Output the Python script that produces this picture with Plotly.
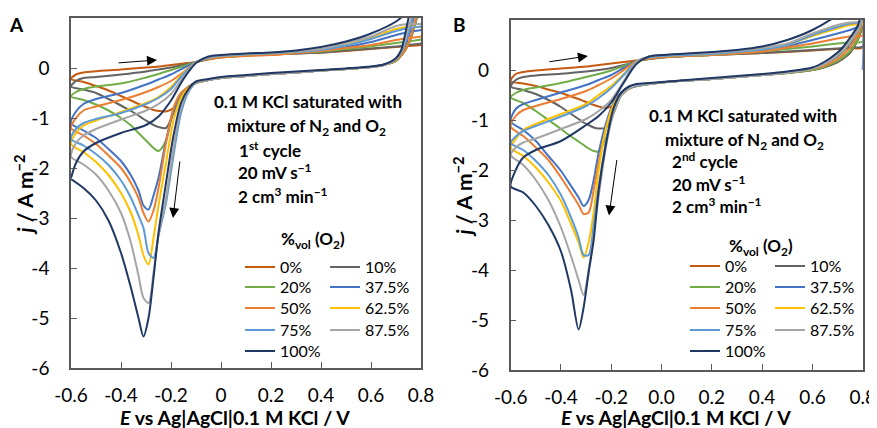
import plotly.graph_objects as go

# ---------------- data ----------------
LABELS = ["0%", "10%", "20%", "37.5%", "50%", "62.5%", "75%", "87.5%", "100%"]
COLORS = ["#C55A11", "#636363", "#70AD47", "#4472C4", "#ED7D31",
          "#FFC000", "#5B9BD5", "#A5A5A5", "#203864"]

# potential grids (V)
E_FWD_A = [-0.6, -0.58, -0.55, -0.5, -0.4, -0.3, -0.25, -0.2, -0.15, -0.1, -0.05,
           0.0, 0.1, 0.2, 0.3, 0.4, 0.5, 0.6, 0.7, 0.75, 0.8, 0.83]
E_FWD_B = [-0.6, -0.58, -0.55, -0.5, -0.4, -0.3, -0.25, -0.2, -0.15, -0.1, -0.05,
           0.0, 0.1, 0.2, 0.3, 0.4, 0.5, 0.6, 0.7, 0.75, 0.8]
E_REV = [0.8, 0.78, 0.75, 0.72, 0.7, 0.65, 0.6, 0.5, 0.4, 0.3, 0.2, 0.1, 0.0, -0.05, -0.1,
         -0.13, -0.16, -0.19, -0.22, -0.25, -0.27, -0.29, -0.31, -0.33, -0.36, -0.4,
         -0.45, -0.5, -0.55, -0.6]

# Panel A, 1st cycle - forward sweep (A m-2)
A_F_0 = [-0.22, -0.13, -0.09, -0.065, -0.03, 0.01, 0.03, 0.06, 0.09, 0.12, 0.17, 0.21, 0.25, 0.27, 0.29, 0.31, 0.34, 0.38, 0.42, 0.44, 0.46, 0.5]
A_F_10 = [-0.37, -0.26, -0.2, -0.18, -0.13, -0.07, -0.03, 0.01, 0.06, 0.12, 0.18, 0.22, 0.25, 0.27, 0.29, 0.31, 0.35, 0.39, 0.43, 0.46, 0.49, 0.53]
A_F_20 = [-0.57, -0.48, -0.42, -0.37, -0.31, -0.19, -0.12, -0.04, 0.04, 0.12, 0.18, 0.22, 0.25, 0.27, 0.3, 0.33, 0.38, 0.43, 0.5, 0.53, 0.57, 0.61]
A_F_375 = [-1.1, -0.87, -0.72, -0.62, -0.5, -0.33, -0.23, -0.13, 0.0, 0.12, 0.19, 0.23, 0.26, 0.28, 0.31, 0.35, 0.42, 0.52, 0.66, 0.72, 0.76, 0.8]
A_F_50 = [-1.2, -1.0, -0.85, -0.77, -0.64, -0.48, -0.38, -0.26, -0.08, 0.12, 0.18, 0.21, 0.24, 0.26, 0.3, 0.34, 0.4, 0.46, 0.56, 0.6, 0.63, 0.67]
A_F_625 = [-1.52, -1.3, -1.15, -1.05, -0.88, -0.7, -0.58, -0.38, -0.1, 0.12, 0.2, 0.24, 0.27, 0.29, 0.32, 0.37, 0.46, 0.6, 0.78, 0.82, 0.82, 0.85]
A_F_75 = [-1.42, -1.22, -1.1, -1.02, -0.9, -0.72, -0.6, -0.42, -0.12, 0.12, 0.2, 0.24, 0.27, 0.29, 0.32, 0.36, 0.45, 0.58, 0.74, 0.8, 0.83, 0.86]
A_F_875 = [-1.77, -1.5, -1.35, -1.22, -1.03, -0.85, -0.72, -0.52, -0.18, 0.12, 0.21, 0.25, 0.28, 0.3, 0.33, 0.38, 0.5, 0.63, 0.84, 0.88, 0.88, 0.92]
A_F_100 = [-2.2, -1.9, -1.67, -1.5, -1.3, -1.14, -0.97, -0.65, -0.22, 0.1, 0.23, 0.26, 0.29, 0.31, 0.35, 0.42, 0.53, 0.69, 0.93, 1.15, 1.5, 1.9]

# Panel A, 1st cycle - reverse sweep
A_R_0 = [1.45, 0.95, 0.48, 0.24, 0.14, 0.06, 0.02, -0.02, -0.05, -0.09, -0.12, -0.16, -0.2, -0.24, -0.3, -0.38, -0.58, -0.8, -0.87, -0.86, -0.84, -0.8, -0.76, -0.72, -0.65, -0.56, -0.45, -0.36, -0.28, -0.22]
A_R_10 = [1.45, 0.95, 0.48, 0.24, 0.14, 0.06, 0.02, -0.02, -0.05, -0.09, -0.12, -0.16, -0.2, -0.24, -0.3, -0.37, -0.52, -0.9, -1.2, -1.18, -1.14, -1.08, -1.02, -0.95, -0.86, -0.75, -0.62, -0.5, -0.43, -0.37]
A_R_20 = [1.45, 0.95, 0.48, 0.24, 0.14, 0.06, 0.02, -0.02, -0.05, -0.09, -0.12, -0.16, -0.2, -0.24, -0.3, -0.38, -0.55, -0.85, -1.45, -1.66, -1.6, -1.5, -1.4, -1.3, -1.15, -1.0, -0.85, -0.73, -0.64, -0.57]
A_R_375 = [1.7, 1.2, 0.62, 0.28, 0.16, 0.06, 0.02, -0.02, -0.05, -0.09, -0.12, -0.16, -0.2, -0.24, -0.3, -0.4, -0.52, -0.85, -1.45, -2.2, -2.55, -2.83, -2.75, -2.45, -2.15, -1.86, -1.62, -1.4, -1.25, -1.1]
A_R_50 = [1.5, 1.0, 0.5, 0.25, 0.15, 0.06, 0.02, -0.02, -0.05, -0.09, -0.12, -0.16, -0.2, -0.24, -0.3, -0.38, -0.5, -0.8, -1.5, -2.4, -2.85, -3.07, -2.9, -2.6, -2.3, -2.0, -1.75, -1.52, -1.35, -1.2]
A_R_625 = [1.8, 1.3, 0.72, 0.3, 0.17, 0.06, 0.02, -0.02, -0.05, -0.09, -0.12, -0.16, -0.2, -0.24, -0.3, -0.4, -0.6, -1.05, -1.9, -2.75, -3.4, -3.93, -3.75, -3.35, -2.9, -2.5, -2.14, -1.88, -1.68, -1.52]
A_R_75 = [1.8, 1.3, 0.7, 0.3, 0.17, 0.06, 0.02, -0.02, -0.05, -0.09, -0.12, -0.16, -0.2, -0.24, -0.3, -0.48, -0.9, -1.75, -2.7, -3.35, -3.8, -3.7, -3.2, -2.95, -2.6, -2.25, -1.94, -1.72, -1.55, -1.42]
A_R_875 = [1.9, 1.4, 0.8, 0.32, 0.18, 0.06, 0.02, -0.02, -0.05, -0.09, -0.12, -0.16, -0.2, -0.24, -0.3, -0.45, -0.8, -1.6, -2.6, -3.35, -4.1, -4.7, -4.6, -4.15, -3.5, -2.9, -2.45, -2.13, -1.93, -1.77]
A_R_100 = [2.2, 1.7, 1.0, 0.35, 0.2, 0.07, 0.03, -0.01, -0.04, -0.07, -0.1, -0.14, -0.18, -0.22, -0.27, -0.42, -0.7, -1.35, -2.3, -3.3, -4.2, -5.0, -5.37, -5.0, -4.4, -3.7, -3.05, -2.65, -2.4, -2.22]

# Panel B, 2nd cycle - forward sweep
B_F_0 = [-0.22, -0.08, -0.04, -0.01, 0.03, 0.07, 0.1, 0.13, 0.16, 0.19, 0.22, 0.25, 0.28, 0.3, 0.32, 0.34, 0.36, 0.39, 0.42, 0.44, 0.45]
B_F_10 = [-0.33, -0.2, -0.14, -0.11, -0.075, -0.03, 0.0, 0.04, 0.1, 0.17, 0.22, 0.25, 0.28, 0.3, 0.32, 0.34, 0.37, 0.4, 0.43, 0.45, 0.47]
B_F_20 = [-0.55, -0.46, -0.4, -0.35, -0.26, -0.14, -0.08, -0.01, 0.08, 0.17, 0.23, 0.26, 0.28, 0.3, 0.33, 0.37, 0.42, 0.47, 0.53, 0.55, 0.57]
B_F_375 = [-1.03, -0.78, -0.68, -0.6, -0.45, -0.3, -0.2, -0.1, 0.04, 0.17, 0.25, 0.28, 0.3, 0.32, 0.35, 0.4, 0.48, 0.6, 0.73, 0.8, 0.87]
B_F_50 = [-1.13, -0.92, -0.8, -0.72, -0.58, -0.42, -0.3, -0.17, 0.0, 0.17, 0.23, 0.26, 0.28, 0.3, 0.33, 0.37, 0.45, 0.53, 0.63, 0.67, 0.69]
B_F_625 = [-1.56, -1.38, -1.2, -1.08, -0.88, -0.68, -0.5, -0.32, -0.08, 0.17, 0.25, 0.28, 0.3, 0.32, 0.36, 0.41, 0.5, 0.68, 0.83, 0.9, 0.93]
B_F_75 = [-1.46, -1.33, -1.22, -1.12, -0.93, -0.72, -0.56, -0.36, -0.1, 0.17, 0.25, 0.28, 0.3, 0.32, 0.36, 0.41, 0.5, 0.7, 0.86, 0.93, 0.96]
B_F_875 = [-1.7, -1.55, -1.45, -1.37, -1.18, -0.98, -0.82, -0.6, -0.22, 0.17, 0.27, 0.3, 0.32, 0.34, 0.38, 0.44, 0.53, 0.73, 0.9, 0.95, 0.97]
B_F_100 = [-2.33, -2.0, -1.75, -1.6, -1.42, -1.1, -0.92, -0.65, -0.25, 0.12, 0.27, 0.3, 0.33, 0.36, 0.4, 0.47, 0.6, 0.8, 1.1, 1.3, 1.5]

# Panel B, 2nd cycle - reverse sweep
B_R_0 = [0.85, 0.6, 0.35, 0.22, 0.16, 0.06, 0.0, -0.06, -0.1, -0.14, -0.18, -0.21, -0.25, -0.28, -0.32, -0.38, -0.5, -0.7, -0.76, -0.73, -0.7, -0.66, -0.62, -0.58, -0.53, -0.46, -0.39, -0.32, -0.27, -0.22]
B_R_10 = [0.85, 0.6, 0.35, 0.22, 0.16, 0.06, 0.0, -0.06, -0.1, -0.14, -0.18, -0.21, -0.25, -0.28, -0.32, -0.37, -0.5, -0.85, -1.15, -1.17, -1.15, -1.1, -1.05, -0.98, -0.88, -0.74, -0.6, -0.48, -0.4, -0.33]
B_R_20 = [0.9, 0.62, 0.38, 0.25, 0.18, 0.07, 0.0, -0.06, -0.1, -0.14, -0.18, -0.21, -0.25, -0.28, -0.32, -0.37, -0.5, -0.85, -1.35, -1.63, -1.62, -1.57, -1.5, -1.43, -1.33, -1.18, -1.0, -0.82, -0.66, -0.55]
B_R_375 = [1.0, 0.75, 0.52, 0.36, 0.27, 0.12, 0.03, -0.05, -0.1, -0.14, -0.18, -0.21, -0.25, -0.28, -0.32, -0.35, -0.45, -0.65, -1.05, -1.65, -2.2, -2.6, -2.72, -2.55, -2.32, -2.02, -1.72, -1.42, -1.2, -1.03]
B_R_50 = [0.95, 0.7, 0.45, 0.3, 0.22, 0.09, 0.02, -0.05, -0.1, -0.14, -0.18, -0.21, -0.25, -0.28, -0.32, -0.36, -0.46, -0.7, -1.15, -1.85, -2.4, -2.85, -2.88, -2.7, -2.46, -2.15, -1.8, -1.55, -1.32, -1.13]
B_R_625 = [1.0, 0.78, 0.56, 0.38, 0.29, 0.13, 0.03, -0.05, -0.1, -0.14, -0.18, -0.21, -0.25, -0.28, -0.32, -0.36, -0.46, -0.68, -1.15, -2.0, -2.85, -3.45, -3.75, -3.45, -3.08, -2.62, -2.25, -1.95, -1.72, -1.56]
B_R_75 = [1.0, 0.78, 0.58, 0.4, 0.3, 0.13, 0.03, -0.05, -0.1, -0.14, -0.18, -0.21, -0.25, -0.28, -0.32, -0.36, -0.48, -0.78, -1.4, -2.35, -3.1, -3.7, -3.7, -3.35, -2.95, -2.5, -2.1, -1.82, -1.6, -1.46]
B_R_875 = [1.0, 0.8, 0.58, 0.4, 0.3, 0.13, 0.03, -0.05, -0.1, -0.14, -0.18, -0.21, -0.25, -0.28, -0.3, -0.37, -0.5, -0.85, -1.5, -2.52, -3.3, -4.0, -4.5, -4.2, -3.72, -3.15, -2.6, -2.2, -1.9, -1.7]
B_R_100 = [1.3, 0.88, 0.65, 0.45, 0.35, 0.17, 0.05, -0.03, -0.08, -0.12, -0.16, -0.2, -0.24, -0.26, -0.28, -0.33, -0.45, -0.75, -1.45, -2.4, -3.4, -4.05, -4.75, -5.19, -4.4, -3.63, -3.1, -2.72, -2.45, -2.33]

# current recorded at the 0.8 V vertex of the 37.5% curve, 2nd cycle
B_VERTEX_375 = [0.0]

X_TICKS = [-0.6, -0.4, -0.2, 0.0, 0.2, 0.4, 0.6, 0.8]
X_TEXT_A = ["-0.6", "-0.4", "-0.2", "0", "0.2", "0.4", "0.6", "0.8"]
X_TEXT_B = ["-0.6", "-0.4", "-0.2", "0.0", "0.2", "0.4", "0.6", "0.8"]
Y_TICKS = [-6, -5, -4, -3, -2, -1, 0, 1]
Y_TEXT = ["-6", "-5", "-4", "-3", "-2", "-1", "0", "1"]

A_FWD = [A_F_0, A_F_10, A_F_20, A_F_375, A_F_50, A_F_625, A_F_75, A_F_875, A_F_100]
A_REV = [A_R_0, A_R_10, A_R_20, A_R_375, A_R_50, A_R_625, A_R_75, A_R_875, A_R_100]
B_FWD = [B_F_0, B_F_10, B_F_20, B_F_375, B_F_50, B_F_625, B_F_75, B_F_875, B_F_100]
B_REV = [B_R_0, B_R_10, B_R_20, B_R_375, B_R_50, B_R_625, B_R_75, B_R_875, B_R_100]

# ---------------- figure ----------------
# the page body has an 8 px margin, so the figure is drawn 8 px in from the corner
OFF = 8
W, H = 877, 428
FONT = "Lato"


def px(x):
    return (x - OFF) / W


def py(y):
    return 1 - (y - OFF) / H


fig = go.Figure()

ROW = [0, 0, 1, 1, 2, 2, 3, 3, 4]
panels = [
    dict(efwd=E_FWD_A, fwd=A_FWD, rev=A_REV, xa="x", ya="y", leg0=1),
    dict(efwd=E_FWD_B, fwd=B_FWD, rev=B_REV, xa="x2", ya="y2", leg0=6),
]
for p_i, p in enumerate(panels):
    for i, lab in enumerate(LABELS):
        xs = list(p["efwd"])
        ys = list(p["fwd"][i])
        if p_i == 1 and i == 3:
            xs += [E_REV[0]] * len(B_VERTEX_375)
            ys += list(B_VERTEX_375)
        xs += list(E_REV)
        ys += list(p["rev"][i])
        k = p["leg0"] + ROW[i]
        fig.add_trace(go.Scatter(
            x=xs, y=ys, mode="lines", name=lab,
            line=dict(color=COLORS[i], width=2, shape="spline", smoothing=0.8),
            xaxis=p["xa"], yaxis=p["ya"],
            legend="legend" if k == 1 else f"legend{k}",
            hoverinfo="skip",
        ))

AX = "#595959"
common_x = dict(range=[-0.6, 0.8], tickvals=X_TICKS, ticks="inside", ticklen=6,
                tickwidth=1.3, tickcolor=AX, showline=True, linecolor=AX, linewidth=1.5,
                mirror=True, showgrid=False, zeroline=False,
                tickfont=dict(family=FONT, size=19, color="#000"),
                ticklabelstandoff=9)
common_y = dict(range=[-6, 1], tickvals=Y_TICKS, ticktext=Y_TEXT, ticks="inside", ticklen=6,
                tickwidth=1.3, tickcolor=AX, showline=True, linecolor=AX, linewidth=1.5,
                mirror=True, showgrid=False, zeroline=False,
                tickfont=dict(family=FONT, size=19, color="#000"),
                ticklabelstandoff=16)

fig.update_layout(
    width=W, height=H,
    margin=dict(l=0, r=0, t=0, b=0, autoexpand=False),
    paper_bgcolor="white", plot_bgcolor="white",
    xaxis=dict(domain=[px(71), px(421)], anchor="y", ticktext=X_TEXT_A, **common_x),
    yaxis=dict(domain=[py(368), py(18)], anchor="x", **common_y),
    xaxis2=dict(domain=[px(510.7), px(862.7)], anchor="y2", ticktext=X_TEXT_B, **common_x),
    yaxis2=dict(domain=[py(370), py(20)], anchor="x2", **common_y),
)

# legends: one horizontal legend per row, two columns
ROWS_A = [267, 287, 308, 330, 351]
ROWS_B = [266, 287, 308, 330, 351]
ITEM_H = 1.3 * 16 + 3
legends = {}
for r in range(5):
    for k0, rows, x0 in ((1, ROWS_A, 240), (6, ROWS_B, 685)):
        k = k0 + r
        key = "legend" if k == 1 else f"legend{k}"
        legends[key] = dict(
            x=px(x0), y=py(rows[r] - ITEM_H / 2 - 5), xanchor="left", yanchor="top",
            orientation="h", entrywidth=40, entrywidthmode="pixels",
            font=dict(family=FONT, size=16, color="#000"),
            bgcolor="rgba(0,0,0,0)", borderwidth=0, itemwidth=30,
        )
fig.update_layout(**legends)

# text
ann = []


def txt(t, x, y, xanchor="center", size=17, angle=0):
    ann.append(dict(text=t, x=px(x), y=py(y), xref="paper", yref="paper",
                    xanchor=xanchor, yanchor="middle", showarrow=False, textangle=angle,
                    font=dict(family=FONT, size=size, color="#000")))


# axis titles
XTITLE = "<b><i>E</i> vs Ag|AgCl|0.1 M KCl / V</b>"
YTITLE = "<b><i>j</i> / A m<sup>−2</sup></b>"
txt(XTITLE, 235, 417, size=19.5)
txt(XTITLE, 676, 417, size=19.5)
txt(YTITLE, 23.5, 195, size=21, angle=-90)
txt(YTITLE, 462.5, 196, size=21, angle=-90)

txt("<b>A</b>", 16, 24, size=19)
txt("<b>B</b>", 459, 24, size=19)
txt("<b>0.1 M KCl saturated with</b>", 308, 102)
txt("<b>mixture of N<sub>2</sub> and O<sub>2</sub></b>", 306, 127)
txt("<b>1<sup>st</sup> cycle</b>", 237, 149, "left")
txt("<b>20 mV s<sup>−1</sup></b>", 236, 172, "left")
txt("<b>2 cm<sup>3</sup> min<sup>−1</sup></b>", 236, 195, "left")
txt("<b>%<sub>vol</sub> (O<sub>2</sub>)</b>", 313, 240)
txt("<b>0.1 M KCl saturated with</b>", 743, 116)
txt("<b>mixture of N<sub>2</sub> and O<sub>2</sub></b>", 744, 141)
txt("<b>2<sup>nd</sup> cycle</b>", 670, 161, "left")
txt("<b>20 mV s<sup>−1</sup></b>", 670, 183, "left")
txt("<b>2 cm<sup>3</sup> min<sup>−1</sup></b>", 670, 205, "left")
txt("<b>%<sub>vol</sub> (O<sub>2</sub>)</b>", 761, 247)

# sweep-direction arrows (tail -> head, in data units of each panel)
ARROWS = [
    ("x", "y", (-0.416, 0.10), (-0.256, 0.16)),
    ("x", "y", (-0.164, -1.84), (-0.192, -3.0)),
    ("x2", "y2", (-0.452, 0.16), (-0.293, 0.28)),
    ("x2", "y2", (-0.177, -1.77), (-0.209, -2.91)),
]
for xr, yr, tail, head in ARROWS:
    ann.append(dict(x=head[0], y=head[1], ax=tail[0], ay=tail[1], xref=xr, yref=yr,
                    axref=xr, ayref=yr, text="", showarrow=True, arrowhead=2,
                    arrowsize=2, arrowwidth=1, arrowcolor="#000", standoff=0,
                    startstandoff=0))

fig.update_layout(annotations=ann)

fig.write_html("out.html")
